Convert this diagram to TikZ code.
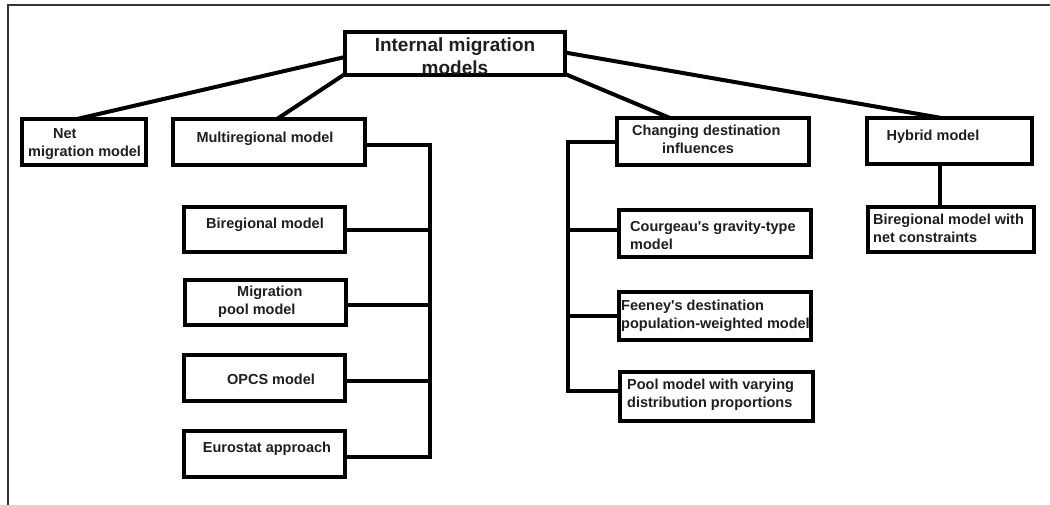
\documentclass[tikz,border=0pt]{standalone}
\usepackage{fontspec}
\setmainfont{Liberation Sans}[Ligatures=TeXOff]
\usetikzlibrary{calc}
\begin{document}
\begin{tikzpicture}[x=1pt,y=-1pt,
  box/.style={draw=black, line width=4pt, rectangle, inner sep=0pt, outer sep=0pt},
  conn/.style={draw=black, line width=4pt, line join=miter},
  txt/.style={font=\bfseries\fontsize{14.5}{18}\selectfont, inner sep=0pt, text=black!88},
  roottxt/.style={font=\bfseries\fontsize{19}{23}\selectfont, inner sep=0pt, text=black!88}]
\useasboundingbox (0,0) rectangle (1050,504);
\fill[white] (0,0) rectangle (1050,504);
\draw[line width=2pt, black!80] (8,5) rectangle (1070,530);

% boxes
\node[box, minimum width=220, minimum height=43] (root) at (455,53.5) {};
\node[box, minimum width=124, minimum height=46] (net) at (84,142) {};
\node[box, minimum width=192, minimum height=46] (multi) at (269,142) {};
\node[box, minimum width=192, minimum height=47] (chg) at (713,141.5) {};
\node[box, minimum width=165, minimum height=46] (hyb) at (949.5,141) {};
\node[box, minimum width=166, minimum height=45] (bnet) at (951,229.5) {};
\node[box, minimum width=161, minimum height=45] (bi) at (264.5,229.5) {};
\node[box, minimum width=161, minimum height=45] (pool) at (265.5,302.5) {};
\node[box, minimum width=161, minimum height=46] (opcs) at (264.5,378) {};
\node[box, minimum width=161, minimum height=46] (eu) at (264.5,454) {};
\node[box, minimum width=192, minimum height=47] (cour) at (715,233.5) {};
\node[box, minimum width=192, minimum height=48] (fee) at (715,316) {};
\node[box, minimum width=193, minimum height=49] (pvar) at (716.5,396.5) {};

% texts
\node[roottxt, align=center] (troot) at (455,56) {Internal migration\\models};
\node[txt, align=left, anchor=west] (tnet) at (28,144) {\hspace*{25pt}Net\\migration model};
\node[txt] (tmulti) at (265,139) {Multiregional model};
\node[txt, align=left, anchor=west] (tchg) at (632,139) {Changing destination\\\hspace*{30pt}influences};
\node[txt] (thyb) at (933,137) {Hybrid model};
\node[txt, align=left, anchor=west] (tbnet) at (873,228) {Biregional model with\\net constraints};
\node[txt] (tbi) at (265,225) {Biregional model};
\node[txt, align=left, anchor=west] (tpool) at (218,302) {\hspace*{19pt}Migration\\pool model};
\node[txt] (topcs) at (271,379) {OPCS model};
\node[txt] (teu) at (267,449) {Eurostat approach};
\node[txt, align=left, anchor=west] (tcour) at (630,235) {Courgeau's gravity-type\\model};
\node[txt, align=left, anchor=west] (tfee) at (621,316) {Feeney's destination\\population-weighted model};
\node[txt, align=left, anchor=west] (tpvar) at (627,395) {Pool model with varying\\distribution proportions};

% connectors from root
\draw[conn] ([yshift=-3.5pt]root.west) -- ([xshift=-7pt]net.north);
\draw[conn] ([yshift=1pt]root.south west) -- ([xshift=8pt]multi.north);
\draw[conn] ([yshift=1pt]root.south east) -- ([xshift=-43pt]chg.north);
\draw[conn] ([yshift=1pt]root.east) -- ([xshift=-8pt]hyb.north);

% multiregional bus
\coordinate (mb) at (430,145);
\coordinate (me) at ([yshift=-3pt]multi.east);
\coordinate (pe) at ([yshift=-2.5pt]pool.east);
\coordinate (oe) at ([yshift=-3pt]opcs.east);
\coordinate (ee) at ([yshift=-3pt]eu.east);
\draw[conn] (me) -- (mb) |- (ee);
\draw[conn] (bi.east) -- (bi.east -| mb);
\draw[conn] (pe) -- (pe -| mb);
\draw[conn] (oe) -- (oe -| mb);

% changing destination bus
\coordinate (cb) at (568,141.5);
\coordinate (cw) at ([yshift=3.5pt]cour.west);
\coordinate (pw) at ([yshift=5.5pt]pvar.west);
\draw[conn] (chg.west) -- (cb) |- (pw);
\draw[conn] (cw) -- (cw -| cb);
\draw[conn] (fee.west) -- (fee.west -| cb);

% hybrid
\coordinate (ht) at ([xshift=-10pt]hyb.south);
\draw[conn] (ht) -- (ht |- bnet.north);
\end{tikzpicture}
\end{document}
